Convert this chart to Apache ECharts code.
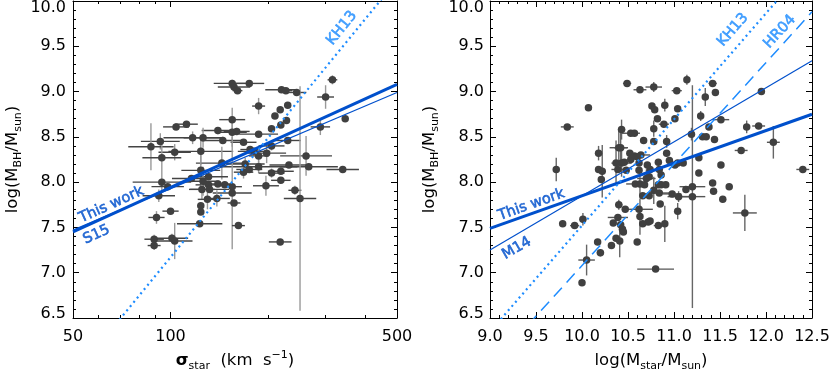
<!DOCTYPE html>
<html><head><meta charset="utf-8">
<script src="https://cdn.jsdelivr.net/npm/echarts@6/dist/echarts.min.js"></script>
<style>html,body{margin:0;padding:0;background:#fff}#c{width:831px;height:370px}</style>
</head><body><div id="c"></div>
<script>
// ---------------- DATA ----------------
// Left panel: velocity dispersion (km/s), log M_BH, errors in dex
const sigmaStar = [155,157,161,175,220,227,245,316,301,187,218,230,210,228,219,205,346,290,104,112,155,140,155,160,187,93,87,117,126,145,168,230,103,124,94,176,181,187,198,205,262,144,170,187,232,267,340,205,219,219,168,175,124,94,98,131,126,131,125,132,140,147,155,155,197,242,251,92,130,139,157,124,124,100,90.5,123,162,218,101,103,89,89,116];
const sigmaMbh   = [9.09,9.05,9.01,9.09,9.02,9.01,8.99,9.13,8.94,8.84,8.80,8.85,8.73,8.68,8.63,8.59,8.70,8.61,8.61,8.64,8.69,8.57,8.55,8.56,8.53,8.45,8.39,8.49,8.49,8.46,8.44,8.46,8.33,8.34,8.27,8.36,8.34,8.29,8.32,8.40,8.29,8.21,8.20,8.17,8.19,8.17,8.14,8.10,8.12,8.02,8.11,8.14,8.13,8.00,7.95,8.06,8.01,7.97,7.92,7.92,7.98,7.97,7.95,7.88,7.96,7.91,7.82,7.85,7.81,7.82,7.77,7.74,7.67,7.68,7.61,7.54,7.52,7.34,7.38,7.35,7.37,7.30,8.04];
const sigmaErrX  = [0.057,0.05,0.015,0.046,0.05,0.02,0.03,0.015,0.026,0.02,0.01,0.01,0.01,0.01,0.01,0.01,0.01,0.03,0.04,0.035,0.04,0.05,0.045,0.04,0.06,0.06,0.07,0.09,0.06,0.07,0.04,0.04,0.05,0.10,0.06,0.03,0.05,0.03,0.06,0.04,0.08,0.08,0.06,0.12,0.06,0.09,0.05,0.04,0.04,0.03,0.03,0.04,0.06,0.09,0.05,0.06,0.05,0.04,0.04,0.06,0.04,0.03,0.03,0.06,0.04,0.02,0.05,0.05,0.03,0.04,0.02,0.01,0.01,0.025,0.025,0.07,0.02,0.035,0.05,0.055,0.03,0.02,0.06];
const sigmaErrY  = [0.04,0.03,0.03,0.03,0.03,0.03,0.03,0.05,0.13,0.09,0.03,0.03,0.03,0.03,0.03,0.03,0.03,0.09,0.03,0.03,0.13,0.04,0.16,0.04,0.03,0.09,0.26,0.07,0.11,0.04,0.03,0.03,0.09,0.15,0.18,0.03,0.03,0.09,0.11,0.05,0.22,0.18,0.07,0.07,0.03,0.03,0.03,0.05,0.03,0.03,0.07,0.03,0.18,0.09,0.03,0.03,0.16,0.03,0.11,0.03,0.03,0.03,0.03,0.62,0.11,0.05,1.24,0.07,0.11,0.09,0.03,0.03,0.03,0.03,0.07,0.03,0.03,0.03,0.05,0.20,0.05,0.05,0.03];

// Right panel: log stellar mass, log M_BH, errors in dex
const mstarVals = [9.72,9.84,10.07,9.79,9.92,10.01,10.0,10.05,10.17,10.20,10.18,10.18,10.22,10.21,10.32,10.49,10.63,10.78,11.14,11.03,11.42,11.45,11.34,10.76,10.79,10.90,10.82,11.04,11.29,11.51,10.89,11.01,10.43,10.53,10.57,10.78,10.67,10.92,10.78,11.31,11.35,11.38,11.44,11.79,11.92,11.95,12.08,11.73,11.51,12.40,11.77,11.60,11.53,11.42,11.43,11.20,11.20,11.27,11.27,11.13,11.19,10.40,10.42,10.52,10.53,10.57,10.60,10.64,10.62,10.62,10.37,10.43,10.46,10.39,10.48,10.71,10.74,10.73,10.83,10.84,10.86,10.92,10.95,11.01,11.04,11.10,10.58,10.63,10.68,10.70,10.66,10.73,10.78,10.84,10.83,10.86,10.91,10.98,11.05,11.04,10.85,10.34,10.39,10.40,10.44,10.45,10.42,10.47,10.62,10.63,10.66,10.72,10.74,10.83,10.90,10.60,10.41,10.37,10.80];
const mstarMbh  = [8.14,8.61,8.82,7.54,7.52,7.59,6.89,7.14,7.34,7.22,8.32,8.14,8.12,8.03,7.30,9.09,9.02,9.05,9.13,9.01,9.09,8.99,8.94,8.84,8.80,8.85,8.70,8.81,8.73,8.69,8.64,8.70,8.58,8.54,8.54,8.59,8.46,8.45,8.45,8.50,8.50,8.61,8.47,8.61,8.62,9.00,8.44,8.35,8.19,8.14,7.66,7.95,7.81,7.99,7.90,7.84,7.95,8.27,8.10,7.92,8.53,8.38,8.38,8.32,8.25,8.29,8.28,8.30,8.21,8.13,8.21,8.21,8.22,8.14,8.13,8.19,8.14,8.06,8.22,8.14,8.08,8.32,8.24,8.19,8.21,8.21,7.98,7.98,7.97,8.04,7.85,7.85,7.91,7.88,7.97,7.97,7.97,7.87,7.84,7.68,7.76,7.55,7.61,7.75,7.48,7.45,7.53,7.70,7.70,7.62,7.54,7.56,7.57,7.52,7.54,7.34,7.35,7.38,7.04];
const mstarErrX = [0,0.07,0,0,0.05,0.035,0,0.09,0,0.04,0,0.02,0.04,0,0,0.045,0.07,0.09,0,0.055,0.045,0,0,0,0,0,0,0.02,0,0.09,0.055,0,0.04,0.10,0.03,0,0,0,0,0,0.03,0,0,0,0.07,0,0.07,0.07,0,0.07,0.13,0,0,0,0,0.14,0.14,0,0,0,0,0.10,0.07,0,0,0,0,0.10,0,0,0,0.11,0,0.07,0,0,0,0,0,0,0,0,0,0,0,0,0.10,0,0,0.10,0,0,0,0.12,0,0,0,0.10,0.12,0,0,0,0.11,0.04,0,0,0,0,0.15,0,0,0,0,0.05,0,0,0,0,0.20];
const mstarErrY = [0.13,0.02,0,0,0,0.07,0,0.17,0,0.04,0.08,0.03,0.29,0.03,0,0,0,0.055,0.055,0,0.03,0.03,0.10,0.02,0,0.07,0,0,0.055,0,0,0,0.11,0,0,0.09,0,0.07,0,0,0,0,0,0.07,0,0,0.18,0,0,0,0.20,0,0,0,0,1.23,0,0,0,0,0.07,0.20,0.22,0,0,0,0,0,0,0,0.25,0.15,0,0,0,0,0,0,0,0,0,0,0,0,0,0,0,0.12,0,0.10,0,0,0.15,0,0,0,0,0,0.06,0.09,0,0,0,0.055,0,0,0,0,0,0.20,0,0,0,0,0.20,0,0.18,0,0,0];

// Relations (endpoints)
const fitSigmaThisWork = [[50, 7.45], [500, 9.08]];
const fitSigmaS15      = [[50, 7.47], [500, 8.99]];
const fitSigmaKH13     = [[60, 6.20], [500, 10.23]];
const fitMstarThisWork = [[9.0, 7.49], [12.5, 8.75]];
const fitMstarM14      = [[9.0, 7.25], [12.5, 9.34]];
const fitMstarKH13     = [[9.0, 6.35], [12.5, 10.45]];
const fitMstarHR04     = [[9.0, 5.96], [12.5, 9.88]];

// Axis ticks
const sigmaMajorTicks = [50, 100, 500];
const sigmaMinorTicks = [60, 70, 80, 90, 200, 300, 400];
const mbhRange = [6.5, 10.0];
const mstarRange = [9.0, 12.5];
const sigmaRange = [50, 500];

// ---------------- CHART ----------------
const FONT = 'DejaVu Sans';
const DARK = '#0050cc';
const LIGHT = '#1e8cff';
const PT = '#404040';
const lg = Math.log10;

const rich = {
  n: {fontFamily: FONT, fontSize: 16.5, lineHeight: 22, verticalAlign: 'middle', color: '#000'},
  b: {fontFamily: FONT, fontSize: 16.5, fontWeight: 'bold', lineHeight: 22, verticalAlign: 'middle', color: '#000'},
  s: {fontFamily: FONT, fontSize: 11, lineHeight: 12, verticalAlign: 'bottom', color: '#000'},
  p: {fontFamily: FONT, fontSize: 11, lineHeight: 12, verticalAlign: 'top', color: '#000'}
};
const lblStyle = {fontFamily: FONT, fontSize: 16, color: '#000'};
const yRich = {
  hi: {fontFamily: FONT, fontSize: 16, color: '#000', padding: [14, 0, 0, 0]},
  lo: {fontFamily: FONT, fontSize: 16, color: '#000', padding: [0, 0, 8, 0]}
};
const axLine = {show: true, lineStyle: {color: '#000', width: 1}};

function yFmt(v) {
  const t = v.toFixed(1);
  if (v >= mbhRange[1] - 1e-9) return '{hi|' + t + '}';
  if (v <= mbhRange[0] + 1e-9) return '{lo|' + t + '}';
  return t;
}

function linAxis(grid, pos, range, labels, extra) {
  return Object.assign({
    type: 'value', gridIndex: grid, position: pos, min: range[0], max: range[1], interval: 0.5,
    axisLine: axLine,
    axisTick: {show: true, inside: true, length: 6, lineStyle: {color: '#000'}},
    minorTick: {show: true, splitNumber: 5, length: 3, lineStyle: {color: '#000'}},
    axisLabel: labels ? Object.assign({show: true, formatter: v => v.toFixed(1)}, lblStyle) : {show: false},
    splitLine: {show: false}, minorSplitLine: {show: false}
  }, extra || {});
}
function logAxis(grid, pos, ticks, major, labels, extra) {
  return Object.assign({
    type: 'value', gridIndex: grid, position: pos, min: lg(sigmaRange[0]), max: lg(sigmaRange[1]),
    axisLine: major ? axLine : {show: false},
    axisTick: {show: true, inside: true, length: major ? 6 : 3, customValues: ticks.map(lg), lineStyle: {color: '#000'}},
    axisLabel: {show: false},
    splitLine: {show: false}
  }, extra || {});
}

const yName = '{n|log(M}{s|BH}{n|/M}{s|sun}{n|)}';
const xAxes = [
  logAxis(0, 'bottom', sigmaMajorTicks, true, true, {
    name: '{b|σ}{s|star}{n|  (km  s}{p|−1}{n|)}', nameLocation: 'middle', nameGap: 32,
    nameTextStyle: {rich},
    axisLabel: Object.assign({show: true, margin: 11, customValues: sigmaMajorTicks.map(lg), formatter: v => String(Math.round(Math.pow(10, v)))}, lblStyle)
  }),
  logAxis(0, 'bottom', sigmaMinorTicks, false, false),
  logAxis(0, 'top', sigmaMajorTicks, true, false),
  logAxis(0, 'top', sigmaMinorTicks, false, false),
  linAxis(1, 'bottom', mstarRange, true, {
    name: '{n|log(M}{s|star}{n|/M}{s|sun}{n|)}', nameLocation: 'middle', nameGap: 32, nameTextStyle: {rich}
  }),
  linAxis(1, 'top', mstarRange, false)
];
xAxes[4].axisLabel.margin = 11;
const yAxes = [
  linAxis(0, 'left', mbhRange, true, {name: yName, nameLocation: 'middle', nameGap: 49, nameTextStyle: {rich}}),
  linAxis(0, 'right', mbhRange, false),
  linAxis(1, 'left', mbhRange, true, {name: yName, nameLocation: 'middle', nameGap: 49, nameTextStyle: {rich}}),
  linAxis(1, 'right', mbhRange, false)
];
[0, 2].forEach(i => {
  yAxes[i].axisLabel.formatter = yFmt;
  yAxes[i].axisLabel.rich = yRich;
});
yAxes[0].axisLabel.margin = 7;
yAxes[2].axisLabel.margin = 6;

const leftRows = sigmaStar.map((s, i) => [lg(s), sigmaMbh[i], sigmaErrX[i], sigmaErrY[i]]);
const rightRows = mstarVals.map((m, i) => [m, mstarMbh[i], mstarErrX[i], mstarErrY[i]]);

function errSeries(xi, yi, rows, cx, cy) {
  return {
    type: 'custom', xAxisIndex: xi, yAxisIndex: yi, data: rows, z: 2, silent: true,
    encode: {x: 0, y: 1},
    renderItem(params, api) {
      const x = api.value(0), y = api.value(1), ex = api.value(2), ey = api.value(3);
      const ch = [];
      if (ex > 0) {
        const a = api.coord([x - ex, y]), b = api.coord([x + ex, y]);
        ch.push({type: 'line', shape: {x1: a[0], y1: a[1], x2: b[0], y2: b[1]}, style: {stroke: cx, lineWidth: 1.4}});
      }
      if (ey > 0) {
        const a = api.coord([x, y - ey]), b = api.coord([x, y + ey]);
        ch.push({type: 'line', shape: {x1: a[0], y1: a[1], x2: b[0], y2: b[1]}, style: {stroke: cy, lineWidth: 1.4}});
      }
      return {type: 'group', children: ch};
    }
  };
}
function ptSeries(xi, yi, rows) {
  return {type: 'scatter', xAxisIndex: xi, yAxisIndex: yi, data: rows.map(r => [r[0], r[1]]),
    symbol: 'circle', symbolSize: 7.5, itemStyle: {color: PT, opacity: 1}, z: 3, silent: true};
}
function lineSeries(xi, yi, pts, color, width, type) {
  return {type: 'line', xAxisIndex: xi, yAxisIndex: yi, data: pts, symbol: 'none', showSymbol: false,
    clip: true, silent: true, z: 5, lineStyle: {color, width, type: type || 'solid', cap: 'butt'}};
}
function textSeries(xi, yi, x, y, text, color, rot) {
  return {type: 'scatter', xAxisIndex: xi, yAxisIndex: yi, data: [[x, y]], symbolSize: 0, silent: true, z: 6,
    itemStyle: {color: color},
    label: {show: true, position: 'inside', formatter: text, rotate: rot, color: color,
      textBorderWidth: 0.6, textBorderColor: color, fontFamily: FONT, fontSize: 14.5}};
}

const option = {
  animation: false,
  backgroundColor: '#fff',
  grid: [
    {left: 73, top: 1, width: 324, height: 317, outerBoundsMode: 'none', containLabel: false},
    {left: 490, top: 1, width: 322, height: 317, outerBoundsMode: 'none', containLabel: false}
  ],
  xAxis: xAxes,
  yAxis: yAxes,
  series: [
    errSeries(0, 0, leftRows, '#444', '#999'),
    ptSeries(0, 0, leftRows),
    lineSeries(0, 0, fitSigmaThisWork.map(p => [lg(p[0]), p[1]]), DARK, 3),
    lineSeries(0, 0, fitSigmaS15.map(p => [lg(p[0]), p[1]]), DARK, 1.2),
    lineSeries(0, 0, fitSigmaKH13.map(p => [lg(p[0]), p[1]]), LIGHT, 2.2, [2, 3.5]),
    textSeries(0, 0, lg(65.7), 7.75, 'This work', DARK, 24.5),
    textSeries(0, 0, lg(59.1), 7.42, 'S15', DARK, 24.5),
    textSeries(0, 0, lg(338), 9.70, 'KH13', LIGHT, 51),

    errSeries(4, 2, rightRows, '#555', '#666'),
    ptSeries(4, 2, rightRows),
    lineSeries(4, 2, fitMstarThisWork, DARK, 3),
    lineSeries(4, 2, fitMstarM14, DARK, 1.2),
    lineSeries(4, 2, fitMstarKH13, LIGHT, 2.2, [2, 3.5]),
    lineSeries(4, 2, fitMstarHR04, LIGHT, 1.5, [12, 7]),
    textSeries(4, 2, 9.45, 7.75, 'This work', DARK, 19.5),
    textSeries(4, 2, 9.29, 7.27, 'M14', DARK, 30),
    textSeries(4, 2, 11.64, 9.68, 'KH13', LIGHT, 49),
    textSeries(4, 2, 12.15, 9.66, 'HR04', LIGHT, 47.5)
  ]
};
const chart = echarts.init(document.getElementById('c'), null, {renderer: 'canvas'});
chart.setOption(option);
</script></body></html>
